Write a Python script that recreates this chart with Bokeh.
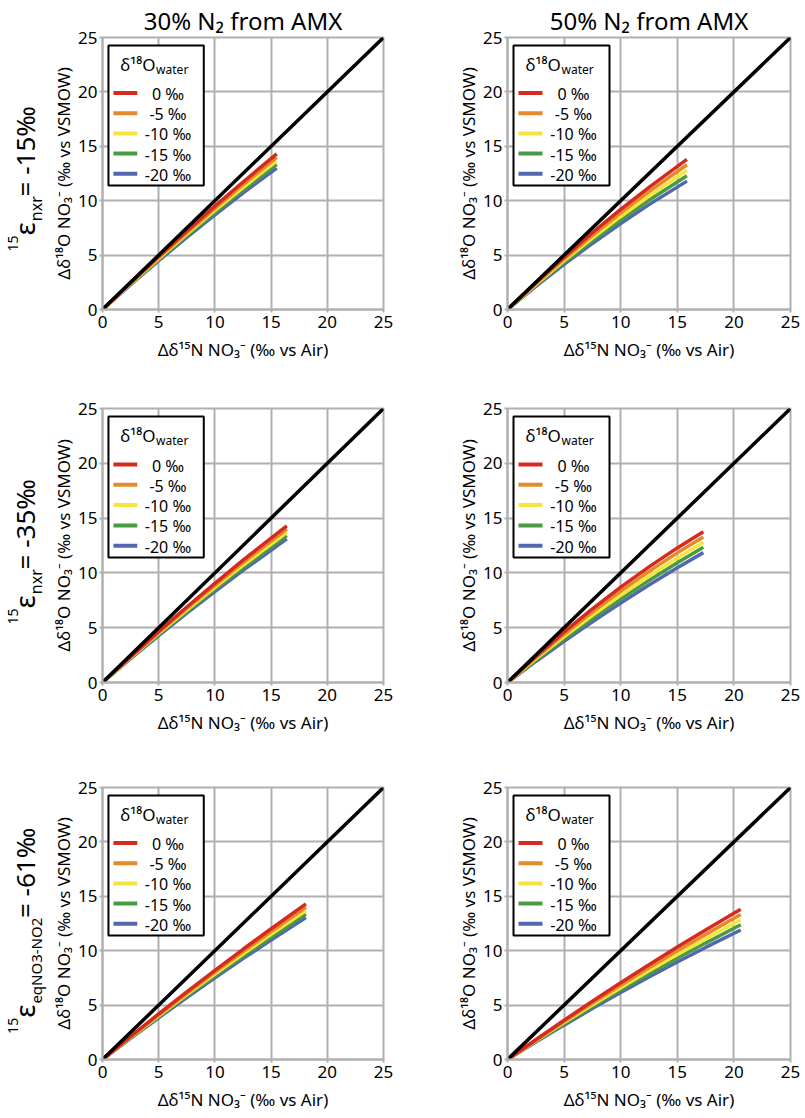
import numpy as np
from bokeh.plotting import figure
from bokeh.layouts import row, column
from bokeh.models import Range1d, FixedTicker, Title
from bokeh.embed import file_html
from bokeh.resources import INLINE
from bokeh.core.properties import value

FONT = "Noto Sans"

# ---------------- data ----------------
col_titles = ["30% N₂ from AMX", "50% N₂ from AMX"]
row_sup = ["15", "15", "15"]
row_eps = ["ε", "ε", "ε"]
row_sub = ["nxr", "nxr", "eqNO3-NO2"]
row_val = [" = -15‰", " = -35‰", " = -61‰"]

x_label = "Δδ¹⁵N NO₃⁻ (‰ vs Air)"
y_label = "Δδ¹⁸O NO₃⁻ (‰ vs VSMOW)"
legend_title = "δ¹⁸O"
legend_title_sub = "water"
series_labels = ["0 ‰", "-5 ‰", "-10 ‰", "-15 ‰", "-20 ‰"]
series_colors = ["#d62a1e", "#e4892c", "#f6e63c", "#4a9a43", "#5167b1"]
axis_ticks = [0, 5, 10, 15, 20, 25]
ref_x = [0, 25]
ref_y = [0, 25]

# row 1 (15e_nxr = -15 permil), col 1 (30 % N2 from AMX)
r1c1_x = [0, 2.5, 5, 7.5, 10, 12.5, 15.5]
r1c1_y = [[0, 2.47, 4.88, 7.22, 9.5, 11.72, 14.3],
          [0, 2.42, 4.78, 7.07, 9.3, 11.47, 13.98],
          [0, 2.38, 4.68, 6.93, 9.1, 11.21, 13.65],
          [0, 2.33, 4.59, 6.78, 8.9, 10.96, 13.33],
          [0, 2.28, 4.49, 6.63, 8.7, 10.7, 13.0]]
# row 1, col 2 (50 % N2 from AMX)
r1c2_x = [0, 2.5, 5, 7.5, 10, 12.5, 15.85]
r1c2_y = [[0, 2.46, 4.81, 7.06, 9.2, 11.23, 13.8],
          [0, 2.37, 4.64, 6.81, 8.88, 10.83, 13.3],
          [0, 2.29, 4.48, 6.56, 8.55, 10.43, 12.8],
          [0, 2.21, 4.31, 6.32, 8.23, 10.04, 12.3],
          [0, 2.12, 4.15, 6.07, 7.9, 9.64, 11.8]]
# row 2 (15e_nxr = -35 permil), col 1
r2c1_x = [0, 2.5, 5, 7.5, 10, 12.5, 16.4]
r2c1_y = [[0, 2.36, 4.66, 6.89, 9.05, 11.16, 14.3],
          [0, 2.31, 4.56, 6.75, 8.86, 10.93, 14.0],
          [0, 2.27, 4.47, 6.61, 8.68, 10.7, 13.7],
          [0, 2.22, 4.37, 6.46, 8.49, 10.46, 13.4],
          [0, 2.17, 4.27, 6.32, 8.3, 10.23, 13.1]]
# row 2, col 2
r2c2_x = [0, 2.5, 5, 7.5, 10, 12.5, 15, 17.3]
r2c2_y = [[0, 2.37, 4.61, 6.72, 8.7, 10.55, 12.28, 13.75],
          [0, 2.26, 4.4, 6.43, 8.34, 10.14, 11.83, 13.28],
          [0, 2.15, 4.19, 6.13, 7.98, 9.72, 11.37, 12.8],
          [0, 2.03, 3.97, 5.84, 7.61, 9.31, 10.92, 12.33],
          [0, 1.92, 3.76, 5.54, 7.25, 8.89, 10.46, 11.85]]
# row 3 (15e_eqNO3-NO2 = -61 permil), col 1
r3c1_x = [0, 2.5, 5, 7.5, 10, 12.5, 15, 18.1]
r3c1_y = [[0, 2.12, 4.19, 6.22, 8.2, 10.13, 12.02, 14.3],
          [0, 2.08, 4.1, 6.09, 8.03, 9.92, 11.76, 13.99],
          [0, 2.03, 4.02, 5.96, 7.85, 9.7, 11.5, 13.68],
          [0, 1.99, 3.93, 5.82, 7.68, 9.49, 11.24, 13.36],
          [0, 1.94, 3.84, 5.69, 7.5, 9.27, 10.98, 13.05]]
# row 3, col 2
r3c2_x = [0, 2.5, 5, 7.5, 10, 12.5, 15, 17.5, 20.6]
r3c2_y = [[0, 1.82, 3.61, 5.35, 7.05, 8.71, 10.33, 11.9, 13.8],
          [0, 1.77, 3.5, 5.18, 6.83, 8.43, 9.99, 11.5, 13.33],
          [0, 1.71, 3.39, 5.02, 6.6, 8.15, 9.65, 11.1, 12.85],
          [0, 1.66, 3.27, 4.85, 6.38, 7.86, 9.3, 10.7, 12.38],
          [0, 1.6, 3.16, 4.68, 6.15, 7.58, 8.96, 10.3, 11.9]]

# ---------------- layout constants ----------------
FW, FH = 283, 274
LAB_W = 49
L_LEFT, L_RIGHT = 51, 17
R_LEFT, R_RIGHT = 107, 14
ROW_BORDERS = [(35, 58), (41, 58), (47, 52)]
ROW_H = [t + FH + b for t, b in ROW_BORDERS]
TOTAL_H = sum(ROW_H)
GRID_C = "#b0b0b0"
PXX = FW / 25.0
PXY = FH / 25.0
DESC = 0.293  # rendered text sits this fraction of its size below the anchor

EM = {"0": .572, "1": .572, "2": .572, "3": .572, "5": .572, "6": .572,
      "-": .322, "=": .572, " ": .26, "‰": 1.4, "n": .613, "x": .523,
      "r": .408, "e": .561, "q": .613, "N": .752, "O": .78, "ε": .51}


def est(s, size):
    return sum(EM.get(c, .6) for c in s) * size


# legend box geometry, in px from the frame's top-left corner
LG_L, LG_R, LG_T, LG_B = 6, 102, 8, 149
LG_SW0, LG_SW1 = 11, 35
LG_ROW0, LG_ROW_DY = 56, 20.3
LG_TEXT_CX = 66


def dx(px):
    return px / PXX


def dy(px):
    return 25 - px / PXY


def panel(xs, ys, left, right, top, bottom, heading=None):
    p = figure(width=left + FW + right, height=top + FH + bottom,
               x_range=Range1d(0, 25), y_range=Range1d(0, 25),
               output_backend="svg", toolbar_location=None, title=None,
               min_border_left=left, min_border_right=right,
               min_border_top=top, min_border_bottom=bottom)
    if heading is not None:
        p.add_layout(Title(text=heading, align="center", text_font=FONT,
                           text_font_size="24px", text_font_style="normal",
                           text_color="black", standoff=2), "above")
    p.background_fill_color = "white"
    p.border_fill_color = "white"
    p.outline_line_color = GRID_C
    p.outline_line_width = 2
    for ax in (p.xaxis, p.yaxis):
        ax.ticker = FixedTicker(ticks=axis_ticks)
        ax.axis_line_color = GRID_C
        ax.axis_line_width = 2
        ax.major_tick_line_color = GRID_C
        ax.major_tick_line_width = 2
        ax.major_tick_out = 3
        ax.major_tick_in = 0
        ax.minor_tick_line_color = None
        ax.major_label_text_font = FONT
        ax.major_label_text_font_size = "17px"
        ax.major_label_text_color = "black"
        ax.axis_label_text_font = FONT
        ax.axis_label_text_font_size = "17px"
        ax.axis_label_text_font_style = "normal"
        ax.axis_label_text_color = "black"
    p.xaxis.major_label_standoff = 3
    p.xaxis.axis_label_standoff = 7
    p.yaxis.major_label_standoff = 2
    p.yaxis.axis_label_standoff = 0
    p.xaxis.axis_label = x_label
    p.yaxis.axis_label = y_label
    p.grid.grid_line_color = GRID_C
    p.grid.grid_line_width = 2

    for i in reversed(range(len(series_labels))):
        p.line(xs, ys[i], line_color=series_colors[i], line_width=3.5)
    p.line(ref_x, ref_y, line_color="black", line_width=3.5)

    # legend box
    p.quad(left=[dx(LG_L)], right=[dx(LG_R)], top=[dy(LG_T)], bottom=[dy(LG_B)],
           fill_color="white", line_color="black", line_width=2)
    p.text(x=[dx(18)], y=[dy(32 - DESC * 17)], text=[legend_title],
           text_font=value(FONT), text_font_size="17px", text_color="black",
           text_align="left", text_baseline="alphabetic")
    p.text(x=[dx(54)], y=[dy(36 - DESC * 12)], text=[legend_title_sub],
           text_font=value(FONT), text_font_size="12px", text_color="black",
           text_align="left", text_baseline="alphabetic")
    n = len(series_labels)
    row_px = [LG_ROW0 + LG_ROW_DY * k for k in range(n)]
    p.segment(x0=[dx(LG_SW0)] * n, x1=[dx(LG_SW1)] * n,
              y0=[dy(r) for r in row_px], y1=[dy(r) for r in row_px],
              line_color=series_colors, line_width=4)
    p.text(x=[dx(LG_TEXT_CX)] * n, y=[dy(r + 5.7 - DESC * 16) for r in row_px],
           text=series_labels, text_font=value(FONT), text_font_size="16px",
           text_color="black", text_align="center", text_baseline="alphabetic")
    return p


panels = [
    (r1c1_x, r1c1_y, r1c2_x, r1c2_y),
    (r2c1_x, r2c1_y, r2c2_x, r2c2_y),
    (r3c1_x, r3c1_y, r3c2_x, r3c2_y),
]

rows = []
for k, ((xl, yl, xr, yr), (t, b)) in enumerate(zip(panels, ROW_BORDERS)):
    pl = panel(xl, yl, L_LEFT, L_RIGHT, t, b, col_titles[0] if k == 0 else None)
    pr = panel(xr, yr, R_LEFT, R_RIGHT, t, b, col_titles[1] if k == 0 else None)
    rows.append(row(pl, pr))


def blank(w, h):
    f = figure(width=w, height=h, x_range=Range1d(0, w), y_range=Range1d(0, h),
               output_backend="svg", toolbar_location=None, title=None,
               x_axis_location=None, y_axis_location=None,
               min_border=0)
    f.grid.visible = False
    f.outline_line_color = None
    f.background_fill_color = "white"
    f.border_fill_color = "white"
    return f


# rotated row headings
lab = blank(LAB_W, TOTAL_H)
centers = []
acc = 0
for (t, b), h in zip(ROW_BORDERS, ROW_H):
    centers.append(TOTAL_H - (acc + t + FH / 2))
    acc += h

for i in range(3):
    sub_fs = 16 if len(row_sub[i]) < 5 else 15
    # (text, font size, wanted baseline x in px)
    pieces = [(row_sup[i], 14, 17), (row_eps[i], 28, 32),
              (row_sub[i], sub_fs, 40), (row_val[i], 26, 32)]
    widths = [est(t, fs) for t, fs, _ in pieces]
    pos = centers[i] - sum(widths) / 2
    for (txt, fs, base_x), w in zip(pieces, widths):
        lab.text(x=[base_x - DESC * fs], y=[pos], text=[txt], angle=np.pi / 2,
                 text_align="left", text_baseline="alphabetic",
                 text_font=value(FONT), text_font_size=f"{fs}px",
                 text_color="black")
        pos += w

layout = row(lab, column(*rows))

open("out.html", "w").write(file_html(layout, INLINE))
